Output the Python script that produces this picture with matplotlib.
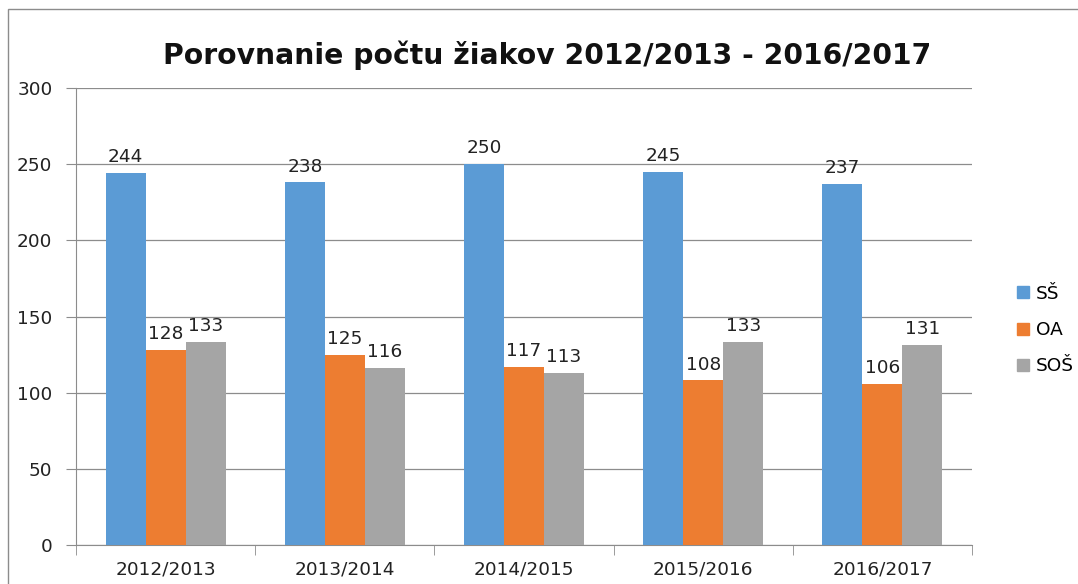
import matplotlib
matplotlib.use("Agg")
import matplotlib.pyplot as plt
import numpy as np
from matplotlib.patches import Rectangle
from matplotlib.lines import Line2D

categories = ["2012/2013", "2013/2014", "2014/2015", "2015/2016", "2016/2017"]
series_names = ["SŠ", "OA", "SOŠ"]
ss = [244, 238, 250, 245, 237]
oa = [128, 125, 117, 108, 106]
sos = [133, 116, 113, 133, 131]
colors = ["#5B9BD5", "#ED7D31", "#A5A5A5"]
yticks = [0, 50, 100, 150, 200, 250, 300]

plt.rcParams['font.family'] = ['DejaVu Sans']
FS = 13.3

fig = plt.figure(figsize=(10.78, 5.84), dpi=100)
W, H = 1078, 584
ax = fig.add_axes([76 / W, 1 - 545 / H, (972 - 76) / W, (545 - 88) / H])

# figure border
fig.patches.append(Rectangle((8 / W, -0.1), 1.2, 1 - 9 / H + 0.1, transform=fig.transFigure,
                             fill=False, edgecolor="#8c8c8c", linewidth=1.0))

x = np.arange(len(categories))
bw = 0.223
for i, (vals, c) in enumerate(zip([ss, oa, sos], colors)):
    pos = x + (i - 1) * bw
    ax.bar(pos, vals, width=bw, color=c, zorder=3, label=series_names[i])
    for p, v in zip(pos, vals):
        ax.annotate(str(v), (p, v), xytext=(0, 5), textcoords="offset points",
                    ha="center", va="bottom", fontsize=FS, color="#222222")

ax.set_xlim(-0.5, len(categories) - 0.5)
ax.set_ylim(0, 300)
ax.set_yticks(yticks)
ax.set_yticklabels([str(t) for t in yticks], fontsize=FS, color="#222222")
ax.yaxis.grid(True, color="#8c8c8c", linewidth=0.9, zorder=0)
ax.set_axisbelow(True)

ax.set_xticks(x)
ax.set_xticklabels(categories, fontsize=FS, color="#222222")
ax.tick_params(axis="x", length=0, pad=11)
ax.set_xticks(np.arange(-0.5, len(categories)), minor=True)
ax.tick_params(axis="x", which="minor", length=7, direction="out", color="#8c8c8c")
ax.tick_params(axis="y", length=7, direction="out", color="#8c8c8c", pad=10)

for s in ["top", "right"]:
    ax.spines[s].set_visible(False)
ax.spines["left"].set_color("#8c8c8c")
ax.spines["bottom"].set_color("#8c8c8c")

title = fig.text(547 / W, 1 - 55 / H, "Porovnanie počtu žiakov 2012/2013 - 2016/2017",
                 ha="center", va="center", fontsize=20, fontweight="bold", color="#111111")
fig.canvas.draw()
wpx = title.get_window_extent().width
title.set_fontsize(20 * 767 / wpx)

handles = [Line2D([0], [0], marker="s", linestyle="none", markersize=8,
                  markerfacecolor=c, markeredgecolor=c) for c in colors]
fig.legend(handles, series_names, loc="center left", bbox_to_anchor=(1008 / W, 1 - 330 / H),
           frameon=False, fontsize=FS, handlelength=0.8, handletextpad=0.3,
           labelspacing=1.0, borderaxespad=0)

fig.savefig("out.png", dpi=100)
